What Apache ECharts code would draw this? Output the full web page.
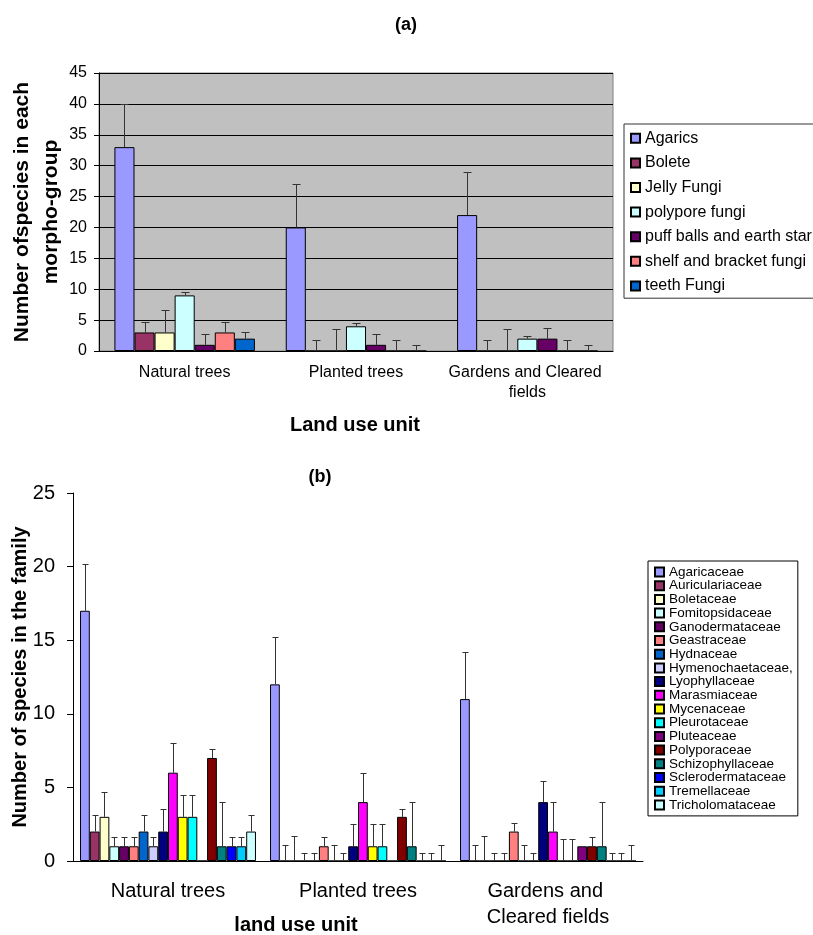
<!DOCTYPE html>
<html>
<head>
<meta charset="utf-8">
<script src="https://cdn.jsdelivr.net/npm/echarts@6/dist/echarts.min.js"></script>
<style>
  html, body { margin: 0; padding: 0; background: #fff; }
  #chart { width: 813px; height: 935px; }
</style>
</head>
<body>
<div id="chart"></div>
<script>
  // land use units (shared by both panels)
  const landUnits = ['Natural trees', 'Planted trees', 'Gardens and Cleared fields']

  // (a) morpho-groups: values per land unit, and upper error bar size
  const morphoGroups = ['Agarics', 'Bolete', 'Jelly Fungi', 'polypore fungi',
    'puff balls and earth star', 'shelf and bracket fungi', 'teeth Fungi']
  const morphoColors = ['#9999FF', '#993366', '#FFFFCC', '#CCFFFF', '#660066', '#FF8080', '#0066CC']
  const morphoValues = [
    [33, 20, 22],
    [3, 0, 0],
    [3, 0, 0],
    [9, 4, 2],
    [1, 1, 2],
    [3, 0, 0],
    [2, 0, 0]
  ]
  const morphoErrors = [
    [7, 7, 6.9],
    [1.7, 1.8, 1.8],
    [3.7, 3.6, 3.6],
    [0.6, 0.5, 0.5],
    [1.7, 1.7, 1.8],
    [1.7, 1.8, 1.8],
    [1.1, 1.0, 1.0]
  ]

  // (b) families
  const families = ['Agaricaceae', 'Auriculariaceae', 'Boletaceae', 'Fomitopsidaceae',
    'Ganodermataceae', 'Geastraceae', 'Hydnaceae', 'Hymenochaetaceae,', 'Lyophyllaceae',
    'Marasmiaceae', 'Mycenaceae', 'Pleurotaceae', 'Pluteaceae', 'Polyporaceae',
    'Schizophyllaceae', 'Sclerodermataceae', 'Tremellaceae', 'Tricholomataceae']
  const familyColors = ['#9999FF', '#993366', '#FFFFCC', '#CCFFFF', '#660066', '#FF8080',
    '#0066CC', '#CCCCFF', '#000080', '#FF00FF', '#FFFF00', '#00FFFF', '#800080', '#800000',
    '#008080', '#0000FF', '#00CCFF', '#CCFFFF']
  const familyValues = [
    [17, 12, 11],
    [2, 0, 0],
    [3, 0, 0],
    [1, 0, 0],
    [1, 0, 0],
    [1, 1, 2],
    [2, 0, 0],
    [1, 0, 0],
    [2, 1, 4],
    [6, 4, 2],
    [3, 1, 0],
    [3, 1, 0],
    [0, 0, 1],
    [7, 3, 1],
    [1, 1, 1],
    [1, 0, 0],
    [1, 0, 0],
    [2, 0, 0]
  ]
  const familyErrors = [
    [3.2, 3.2, 3.2],
    [1.15, 1.1, 1.1],
    [1.7, 1.7, 1.7],
    [0.6, 0.55, 0.55],
    [0.6, 0.55, 0.55],
    [0.6, 0.6, 0.6],
    [1.15, 1.1, 1.1],
    [0.6, 0.55, 0.55],
    [1.5, 1.5, 1.45],
    [2, 2, 2],
    [1.5, 1.5, 1.5],
    [1.5, 1.5, 1.5],
    [null, null, null],
    [0.6, 0.5, 0.6],
    [3, 3, 3],
    [0.6, 0.55, 0.55],
    [0.6, 0.55, 0.55],
    [1.15, 1.1, 1.1]
  ]

  const font = 'Liberation Sans, Arial, sans-serif'
  const gapA = 0.18
  const gapB = 0.074

  // error bars drawn at the centre of each bar of a grouped bar series
  function errorBars (gridIdx, count, gap, values, errors, capW) {
    const data = []
    values.forEach((row, s) => row.forEach((v, c) => {
      if (errors[s][c] != null) data.push([c, v, v + errors[s][c], s])
    }))
    return {
      type: 'custom',
      xAxisIndex: gridIdx,
      yAxisIndex: gridIdx,
      silent: true,
      z: 5,
      data: data,
      encode: { x: 0, y: [1, 2] },
      renderItem (params, api) {
        const c = api.value(0)
        const s = api.value(3)
        const catW = api.size([1, 0])[0]
        const groupW = catW * (1 - gap)
        const barW = groupW / count
        const base = api.coord([c, api.value(1)])
        const top = api.coord([c, api.value(2)])
        const x = Math.round(base[0] - groupW / 2 + (s + 0.5) * barW) + 0.5
        const y = Math.round(top[1]) + 0.5
        const st = { stroke: '#333', lineWidth: 1 }
        return {
          type: 'group',
          children: [
            { type: 'line', shape: { x1: x, y1: base[1], x2: x, y2: y }, style: st },
            { type: 'line', shape: { x1: x - capW / 2, y1: y, x2: x + capW / 2, y2: y }, style: st }
          ]
        }
      }
    }
  }

  const series = []
  morphoGroups.forEach((name, i) => {
    series.push({
      type: 'bar', name: name, xAxisIndex: 0, yAxisIndex: 0,
      data: morphoValues[i], barGap: 0, barCategoryGap: (gapA * 100) + '%',
      itemStyle: { color: morphoColors[i], borderColor: '#000', borderWidth: 1 }
    })
  })
  families.forEach((name, i) => {
    series.push({
      type: 'bar', name: name, xAxisIndex: 1, yAxisIndex: 1,
      data: familyValues[i], barGap: 0, barCategoryGap: (gapB * 100) + '%',
      itemStyle: { color: familyColors[i], borderColor: '#000', borderWidth: 1 }
    })
  })
  series.push(errorBars(0, morphoGroups.length, gapA, morphoValues, morphoErrors, 8))
  series.push(errorBars(1, families.length, gapB, familyValues, familyErrors, 6))

  const chart = echarts.init(document.getElementById('chart'))
  chart.setOption({
    animation: false,
    textStyle: { fontFamily: font },
    grid: [
      { left: 99, top: 73, width: 514, height: 278, outerBoundsMode: 'none', show: true, backgroundColor: '#C0C0C0', borderColor: '#808080', borderWidth: 1 },
      { left: 73, top: 493, width: 570, height: 368, outerBoundsMode: 'none' }
    ],
    legend: [
      {
        data: morphoGroups, orient: 'vertical', left: 624, top: 124,
        padding: [5, 12, 3, 6], itemGap: 6, itemWidth: 9, itemHeight: 9, icon: 'rect',
        borderColor: '#333', borderWidth: 1,
        textStyle: { fontSize: 16, lineHeight: 18.6, color: '#000', fontFamily: font }
      },
      {
        data: families, orient: 'vertical', left: 648, top: 561,
        padding: [4, 5, 4, 6], itemGap: -0.3, itemWidth: 9, itemHeight: 9, icon: 'rect',
        borderColor: '#000', borderWidth: 1,
        textStyle: { fontSize: 13.5, lineHeight: 13.7, color: '#000', fontFamily: font }
      }
    ],
    xAxis: [
      {
        type: 'category', gridIndex: 0, data: landUnits,
        axisLine: { lineStyle: { color: '#000' } },
        axisTick: { length: 5, lineStyle: { color: '#000' } },
        axisLabel: { interval: 0, fontSize: 16, color: '#000', margin: 12, lineHeight: 19.5, width: 165, overflow: 'break' }
      },
      {
        type: 'category', gridIndex: 1, data: landUnits,
        axisLine: { lineStyle: { color: '#000' } },
        axisTick: { length: 7, lineStyle: { color: '#000' } },
        axisLabel: { interval: 0, fontSize: 20, color: '#000', margin: 18, lineHeight: 25.6, width: 175, overflow: 'break' }
      }
    ],
    yAxis: [
      {
        type: 'value', gridIndex: 0, min: 0, max: 45, interval: 5,
        axisLine: { show: true, lineStyle: { color: '#000' } },
        axisTick: { show: true, length: 5, lineStyle: { color: '#000' } },
        axisLabel: { fontSize: 16, color: '#000', margin: 12 },
        splitLine: { lineStyle: { color: '#000', width: 1 } }
      },
      {
        type: 'value', gridIndex: 1, min: 0, max: 25, interval: 5,
        axisLine: { show: true, lineStyle: { color: '#000' } },
        axisTick: { show: true, length: 6, lineStyle: { color: '#000' } },
        axisLabel: { fontSize: 20, color: '#000', margin: 18 },
        splitLine: { show: false }
      }
    ],
    graphic: [
      { type: 'text', x: 406, y: 25, style: { text: '(a)', font: 'bold 18px ' + font, fill: '#000', align: 'center', verticalAlign: 'middle', textAlign: 'center', textVerticalAlign: 'middle' } },
      { type: 'text', x: 320, y: 477, style: { text: '(b)', font: 'bold 18px ' + font, fill: '#000', align: 'center', verticalAlign: 'middle', textAlign: 'center', textVerticalAlign: 'middle' } },
      { type: 'text', x: 355, y: 425, style: { text: 'Land use unit', font: 'bold 20px ' + font, fill: '#000', align: 'center', verticalAlign: 'middle', textAlign: 'center', textVerticalAlign: 'middle' } },
      { type: 'text', x: 296, y: 925, style: { text: 'land use unit', font: 'bold 20px ' + font, fill: '#000', align: 'center', verticalAlign: 'middle', textAlign: 'center', textVerticalAlign: 'middle' } },
      { type: 'text', x: 37, y: 212, rotation: Math.PI / 2, style: { text: 'Number ofspecies in each\nmorpho-group', font: 'bold 21px ' + font, lineHeight: 29, fill: '#000', align: 'center', verticalAlign: 'middle', textAlign: 'center', textVerticalAlign: 'middle' } },
      { type: 'text', x: 20, y: 677, rotation: Math.PI / 2, style: { text: 'Number of species in the family', font: 'bold 20px ' + font, fill: '#000', align: 'center', verticalAlign: 'middle', textAlign: 'center', textVerticalAlign: 'middle' } }
    ],
    series: series
  })
</script>
</body>
</html>
